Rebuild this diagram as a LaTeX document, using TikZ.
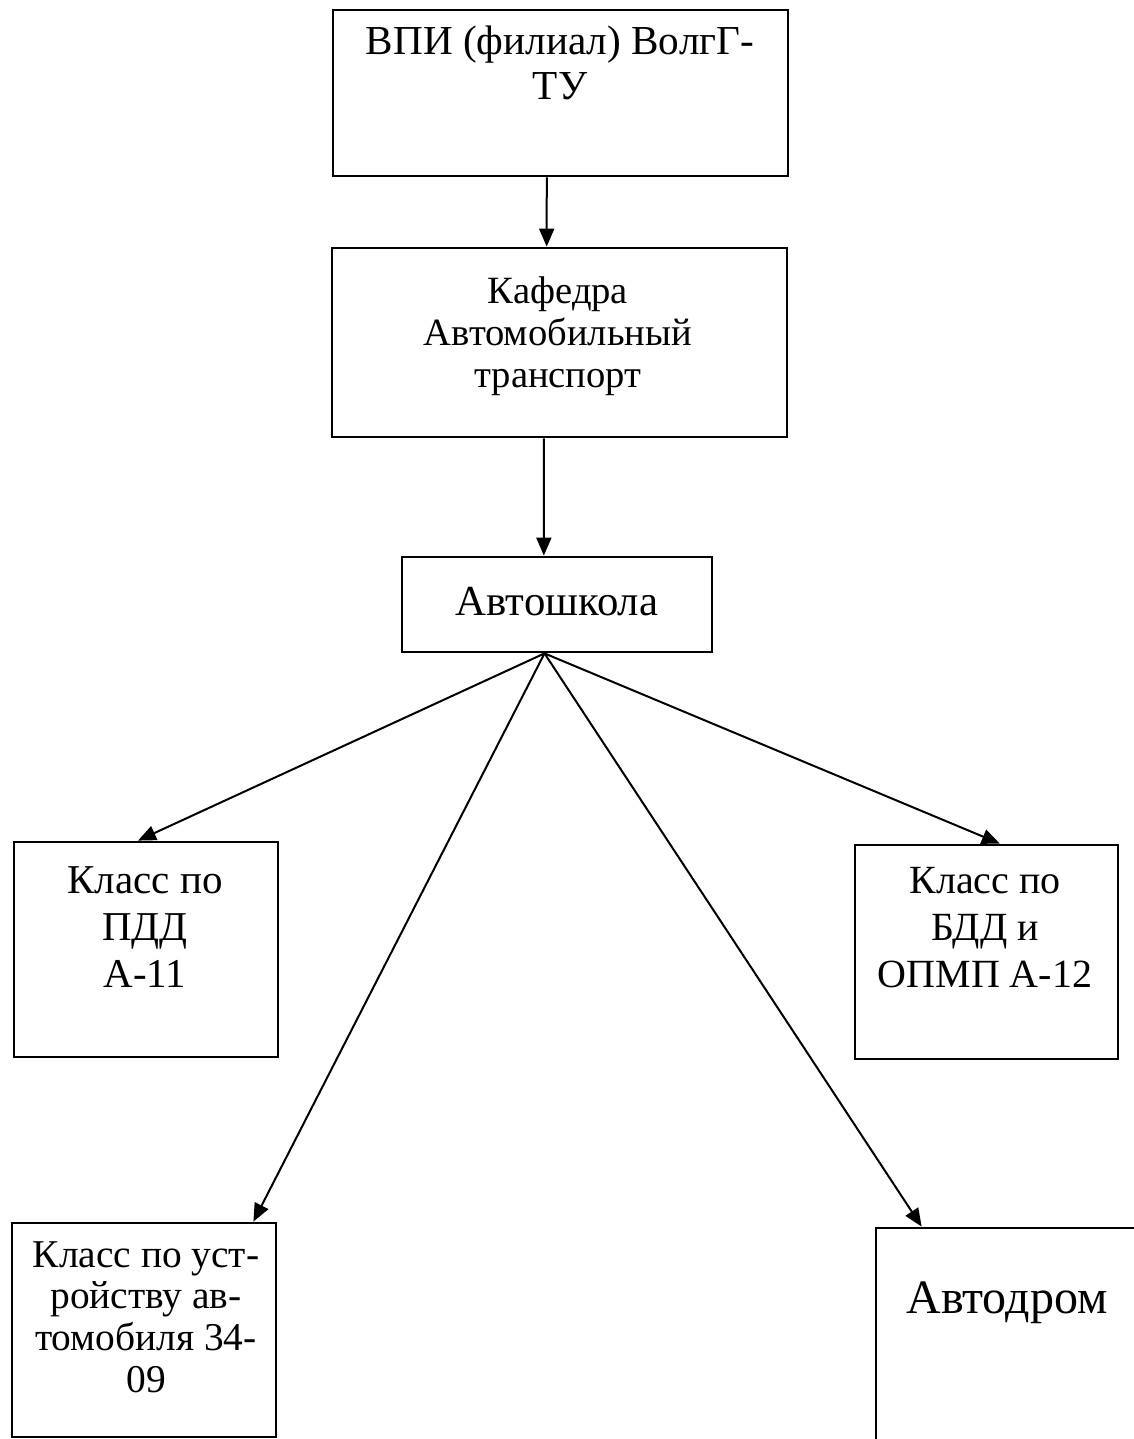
\documentclass[tikz,border=0pt]{standalone}
\usepackage{fontspec}
\setmainfont{Liberation Serif}
\usetikzlibrary{arrows.meta,calc,fit}
\newcommand\fsz[2]{\fontsize{#1}{#2}\selectfont}
\begin{document}
\begin{tikzpicture}[x=0.5pt,y=-0.5pt,
  box/.style={draw,line width=1.4pt,inner sep=0pt,fit={#1}},
  lbl/.style={align=center,inner sep=0pt,anchor=base},
  arr/.style={line width=1pt,-{Triangle[length=9pt,width=7.5pt]}}]
\useasboundingbox (0,0) rectangle (1134,1439);
% boxes
\node[box={(333,10)(788,176)}] (vpi) {};
\node[box={(332,248)(787,437)}] (kaf) {};
\node[box={(402,557)(712,652)}] (avs) {};
\node[box={(14,842)(278,1057)}] (pdd) {};
\node[box={(855,845)(1118,1059)}] (bdd) {};
\node[box={(12,1223)(276,1437)}] (ust) {};
\node[box={(876,1228)(1150,1460)}] (drom) {};
% texts (base anchor = baseline of the last line)
\node[lbl,font=\fsz{20.6}{22.5}] (vpit) at (560,100) {ВПИ (филиал) ВолгГ-\\ТУ};
\node[lbl,font=\fsz{19.3}{21}] (kaft) at (558,387) {Кафедра\\Автомобильный\\транспорт};
\node[lbl,font=\fsz{21.4}{24}] (avst) at (557,615) {Автошкола};
\node[lbl,font=\fsz{20.5}{23.5}] (pddt) at (145,987) {Класс по\\ПДД\\А-11};
\node[lbl,font=\fsz{20}{23.5}] (bddt) at (985,987) {Класс по\\БДД и\\ОПМП А-12};
\node[lbl,font=\fsz{19.7}{20.8}] (ustt) at (146,1392) {Класс по уст-\\ройству ав-\\томобиля 34-\\09};
\node[lbl,font=\fsz{24}{28}] (dromt) at (1007,1313) {Автодром};
% connectors
\coordinate (hub) at ($(avs.south west)!0.46!(avs.south east)$);
\draw[arr] ($(vpi.south west)!0.47!(vpi.south east)$) -- ($(kaf.north west)!0.472!(kaf.north east)$);
\draw[arr] ($(kaf.south west)!0.466!(kaf.south east)$) -- ($(avs.north west)!0.458!(avs.north east)$);
\draw[arr] (hub) -- ($(pdd.north west)!0.47!(pdd.north east)$);
\draw[arr] (hub) -- ($(ust.north west)!0.91!(ust.north east)$);
\draw[arr] (hub) -- ($(drom.north west)!0.17!(drom.north east)$);
\draw[arr] (hub) -- ($(bdd.north west)!0.55!(bdd.north east)$);
\end{tikzpicture}
\end{document}
